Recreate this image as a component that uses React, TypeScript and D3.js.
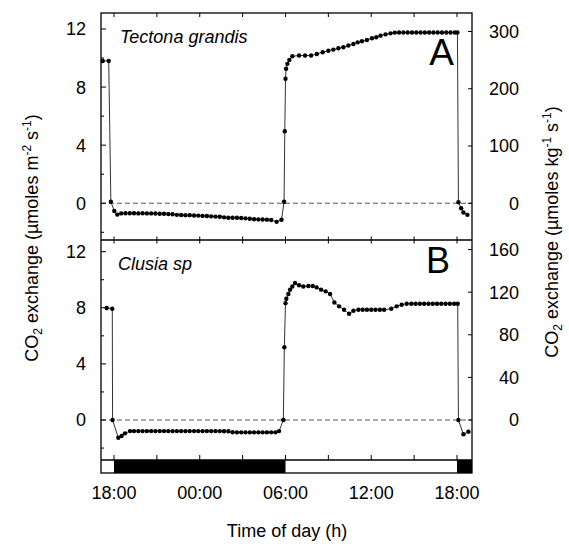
import React from "react";
import * as d3 from "d3";

// hours after 18:00 of the first day
const xTickHours = [0, 3, 6, 9, 12, 15, 18, 21, 24];
const xLabelHours = [0, 6, 12, 18, 24];
const xLabels = ["18:00", "00:00", "06:00", "12:00", "18:00"];
const leftMajorTicks = [0, 4, 8, 12];
const leftMinorTicks = [-2, 2, 6, 10];
const rightTicksA = [0, 100, 200, 300];
const rightTicksB = [0, 40, 80, 120, 160];
const darkPeriods: [number, number][] = [[0, 12], [24, 26]];

const tectonaData: [number, number][] = [
  [-0.79, 9.8], [-0.37, 9.8], [-0.22, 0.1], [0.02, -0.53], [0.23, -0.78],
  [0.5, -0.7], [0.8, -0.69], [1.1, -0.69], [1.4, -0.69], [1.7, -0.7], [2.0, -0.69],
  [2.3, -0.7], [2.6, -0.7], [2.9, -0.71], [3.2, -0.72], [3.5, -0.72], [3.8, -0.74],
  [4.1, -0.76], [4.4, -0.8], [4.7, -0.81], [5.0, -0.82], [5.3, -0.82], [5.6, -0.84],
  [5.9, -0.85], [6.2, -0.87], [6.5, -0.88], [6.8, -0.9], [7.1, -0.92], [7.4, -0.93],
  [7.7, -0.97], [8.0, -1.0], [8.3, -1.0], [8.6, -1.0], [8.9, -1.02], [9.2, -1.04],
  [9.5, -1.07], [9.8, -1.1], [10.1, -1.11], [10.4, -1.12], [10.7, -1.13], [11.0, -1.15],
  [11.38, -1.28], [11.72, -1.14], [11.9, 0.1], [11.95, 4.96], [12.0, 8.57],
  [12.04, 9.26], [12.13, 9.6], [12.27, 9.87], [12.48, 10.12], [12.95, 10.17],
  [13.37, 10.17], [13.79, 10.17], [14.19, 10.28], [14.6, 10.4], [15.0, 10.5],
  [15.35, 10.58], [15.7, 10.67], [16.05, 10.74], [16.4, 10.86], [16.75, 10.97],
  [17.05, 11.08], [17.35, 11.15], [17.7, 11.24], [18.05, 11.36], [18.35, 11.43],
  [18.65, 11.54], [19.0, 11.63], [19.35, 11.7], [19.65, 11.75], [19.95, 11.76],
  [20.25, 11.76], [20.55, 11.76], [20.85, 11.76], [21.15, 11.76], [21.45, 11.76],
  [21.75, 11.76], [22.05, 11.76], [22.35, 11.76], [22.65, 11.76], [22.95, 11.76],
  [23.25, 11.76], [23.55, 11.76], [23.85, 11.76], [24.03, 11.76], [24.1, 0.07],
  [24.29, -0.34], [24.45, -0.64], [24.73, -0.8],
];

const clusiaData: [number, number][] = [
  [-0.51, 7.98], [-0.12, 7.93], [-0.1, 0.0], [0.3, -1.26], [0.53, -1.14],
  [0.77, -0.95], [1.12, -0.79], [1.4, -0.79], [1.7, -0.79], [2.0, -0.79],
  [2.3, -0.79], [2.6, -0.79], [2.9, -0.79], [3.2, -0.79], [3.5, -0.79],
  [3.8, -0.79], [4.1, -0.79], [4.4, -0.79], [4.7, -0.79], [5.0, -0.79],
  [5.3, -0.79], [5.6, -0.79], [5.9, -0.79], [6.2, -0.79], [6.5, -0.79],
  [6.8, -0.79], [7.1, -0.79], [7.4, -0.79], [7.7, -0.8], [8.0, -0.8],
  [8.3, -0.87], [8.6, -0.88], [8.9, -0.88], [9.2, -0.88], [9.5, -0.88],
  [9.8, -0.88], [10.1, -0.88], [10.4, -0.88], [10.7, -0.88], [11.0, -0.88],
  [11.3, -0.88], [11.55, -0.79], [11.85, 0.0], [11.92, 5.19], [12.0, 8.33],
  [12.06, 8.64], [12.2, 8.98], [12.32, 9.29], [12.48, 9.52], [12.67, 9.76],
  [12.95, 9.6], [13.25, 9.52], [13.6, 9.55], [13.9, 9.55], [14.18, 9.45],
  [14.49, 9.29], [14.81, 9.17], [15.12, 8.98], [15.42, 8.38], [15.75, 8.1],
  [16.1, 7.86], [16.45, 7.57], [16.75, 7.79], [17.1, 7.86], [17.4, 7.86],
  [17.7, 7.86], [18.0, 7.86], [18.3, 7.86], [18.6, 7.86], [18.9, 7.86],
  [19.4, 7.93], [19.78, 8.1], [20.13, 8.21], [20.48, 8.29], [20.8, 8.29],
  [21.1, 8.29], [21.4, 8.29], [21.7, 8.29], [22.0, 8.29], [22.3, 8.29],
  [22.6, 8.29], [22.9, 8.29], [23.2, 8.29], [23.5, 8.29], [23.8, 8.29],
  [24.05, 8.29], [24.1, 0.0], [24.45, -1.02], [24.8, -0.83],
];

const W = 569;
const H = 547;
const L = 101;
const R = 472;
const TOP = 13;
const MID = 240;
const BAR_TOP = 460;
const BOT = 473;
const FONT = "'Liberation Sans', Arial, Helvetica, sans-serif";

export default function App() {
  const x = d3.scaleLinear().domain([-0.91, 25.05]).range([L, R]);
  const yA = d3.scaleLinear().domain([-2.53, 13.1]).range([MID, TOP]);
  const fA = 25.37;
  const yAR = d3.scaleLinear().domain([-2.53 * fA, 13.1 * fA]).range([MID, TOP]);
  const yB = d3.scaleLinear().domain([-2.85, 12.83]).range([BAR_TOP, MID]);
  const fB = 13.17;
  const yBR = d3.scaleLinear().domain([-2.85 * fB, 12.83 * fB]).range([BAR_TOP, MID]);

  const lineA = d3.line<[number, number]>().x((d) => x(d[0])).y((d) => yA(d[1]));
  const lineB = d3.line<[number, number]>().x((d) => x(d[0])).y((d) => yB(d[1]));

  const tickLabelStyle = { fontFamily: FONT, fontSize: 18, fill: "#000" } as const;

  const panel = (
    y: d3.ScaleLinear<number, number>,
    yR: d3.ScaleLinear<number, number>,
    rTicks: number[],
    data: [number, number][],
    line: d3.Line<[number, number]>,
    key: string
  ) => (
    <g key={key}>
      <line x1={L} x2={R} y1={y(0)} y2={y(0)} stroke="#444" strokeWidth={0.9} strokeDasharray="5,3" />
      <path d={line(data) || ""} fill="none" stroke="#333" strokeWidth={1} />
      {data.map((d, i) => (
        <circle key={i} cx={x(d[0])} cy={y(d[1])} r={2.2} fill="#000" />
      ))}
      {leftMajorTicks.map((t) => (
        <g key={"lm" + t}>
          <line x1={L} x2={L + 5} y1={y(t)} y2={y(t)} stroke="#000" strokeWidth={1} />
          <text x={86} y={y(t)} dy="0.36em" textAnchor="end" style={tickLabelStyle}>
            {t}
          </text>
        </g>
      ))}
      {leftMinorTicks.map((t) => (
        <line key={"ln" + t} x1={L} x2={L + 3} y1={y(t)} y2={y(t)} stroke="#000" strokeWidth={1} />
      ))}
      {rTicks.map((t) => (
        <g key={"r" + t}>
          <line x1={R - 4} x2={R} y1={yR(t)} y2={yR(t)} stroke="#000" strokeWidth={1} />
          <text x={519} y={yR(t)} dy="0.36em" textAnchor="end" style={tickLabelStyle}>
            {t}
          </text>
        </g>
      ))}
    </g>
  );

  return (
    <svg width={W} height={H} style={{ position: "absolute", left: 0, top: 0, background: "#fff" }}>
      <rect x={0} y={0} width={W} height={H} fill="#fff" />
      {/* day/night bar */}
      {darkPeriods.map((p, i) => {
        const x0 = Math.max(L, x(p[0]));
        const x1 = Math.min(R, x(p[1]));
        return <rect key={i} x={x0} y={BAR_TOP} width={x1 - x0} height={BOT - BAR_TOP} fill="#000" />;
      })}

      {panel(yA, yAR, rightTicksA, tectonaData, lineA, "A")}
      {panel(yB, yBR, rightTicksB, clusiaData, lineB, "B")}

      {/* x ticks */}
      {xTickHours.map((h) => (
        <g key={"xt" + h}>
          <line x1={x(h)} x2={x(h)} y1={TOP} y2={TOP + 4} stroke="#000" strokeWidth={1} />
          <line x1={x(h)} x2={x(h)} y1={MID - 3.5} y2={MID + 3.5} stroke="#000" strokeWidth={1} />
          <line x1={x(h)} x2={x(h)} y1={BAR_TOP - 5} y2={BAR_TOP} stroke="#000" strokeWidth={1} />
        </g>
      ))}
      {xLabelHours.map((h, i) => (
        <text key={"xl" + h} x={x(h)} y={499} textAnchor="middle" style={tickLabelStyle}>
          {xLabels[i]}
        </text>
      ))}

      {/* frame */}
      <rect x={L} y={TOP} width={R - L} height={BOT - TOP} fill="none" stroke="#000" strokeWidth={1.3} />
      <line x1={L} x2={R} y1={MID} y2={MID} stroke="#000" strokeWidth={1.3} />
      <line x1={L} x2={R} y1={BAR_TOP} y2={BAR_TOP} stroke="#000" strokeWidth={1.3} />

      {/* panel labels */}
      <text x={120} y={43} style={{ fontFamily: FONT, fontSize: 18, fontStyle: "italic" }}>Tectona grandis</text>
      <text x={118} y={270} style={{ fontFamily: FONT, fontSize: 18, fontStyle: "italic" }}>Clusia sp</text>
      <text x={454} y={65} textAnchor="end" style={{ fontFamily: FONT, fontSize: 37 }}>A</text>
      <text x={450} y={273} textAnchor="end" style={{ fontFamily: FONT, fontSize: 36 }}>B</text>

      {/* axis titles */}
      <text x={287} y={537} textAnchor="middle" style={tickLabelStyle}>Time of day (h)</text>
      <text transform="translate(38,238) rotate(-90)" textAnchor="middle" style={tickLabelStyle}>
        CO<tspan fontSize={12} dy={4}>2</tspan>
        <tspan dy={-4}> exchange (µmoles m</tspan>
        <tspan fontSize={12} dy={-7}>-2</tspan>
        <tspan dy={7}> s</tspan>
        <tspan fontSize={12} dy={-7}>-1</tspan>
        <tspan dy={7}>)</tspan>
      </text>
      <text transform="translate(558,232) rotate(-90)" textAnchor="middle" style={tickLabelStyle}>
        CO<tspan fontSize={12} dy={4}>2</tspan>
        <tspan dy={-4}> exchange (µmoles kg</tspan>
        <tspan fontSize={12} dy={-7}>-1</tspan>
        <tspan dy={7}> s</tspan>
        <tspan fontSize={12} dy={-7}>-1</tspan>
        <tspan dy={7}>)</tspan>
      </text>
    </svg>
  );
}
